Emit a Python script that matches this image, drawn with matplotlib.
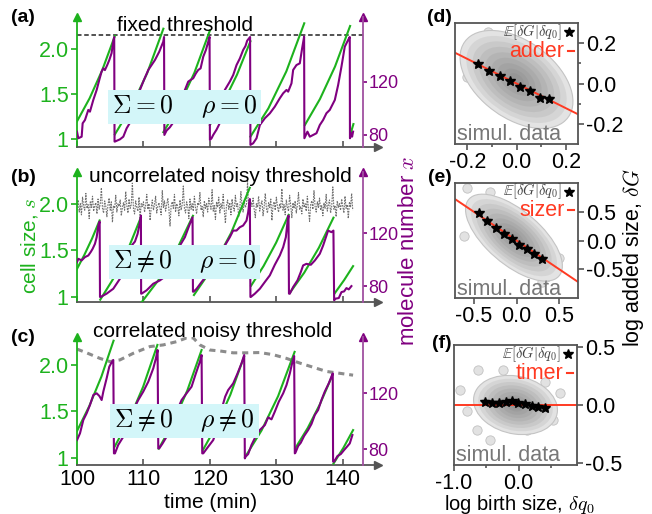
import numpy as np
import matplotlib.pyplot as plt
from matplotlib.patches import Ellipse

plt.rcParams['font.family'] = ['Liberation Sans', 'DejaVu Sans']
plt.rcParams['mathtext.fontset'] = 'cm'
plt.rcParams['axes.unicode_minus'] = False

GREEN = '#1db21d'
PURPLE = '#800080'
AXGRAY = '#555555'
RED = '#ff3a22'
CYAN = '#d3f6f9'

W, H = 652, 514

# ---------------- (a) fixed threshold ----------------
a_size_t = [[100.0, 101.9, 103.8, 105.7], [105.7, 108.13, 110.57, 113.0],
            [113.0, 115.33, 117.67, 120.0], [120.0, 122.03, 124.07, 126.1],
            [126.1, 128.8, 131.5, 134.2], [134.3, 136.57, 138.83, 141.1],
            [141.2, 141.6]]
a_size_s = [[1.20, 1.457, 1.77, 2.15], [1.055, 1.354, 1.737, 2.23],
            [1.08, 1.371, 1.741, 2.21], [1.16, 1.411, 1.717, 2.09],
            [1.03, 1.344, 1.755, 2.29], [1.16, 1.449, 1.809, 2.26],
            [1.07, 1.17]]
a_mol_t = [100.0, 100.2, 100.7, 100.85, 101.2, 101.7, 101.95, 102.45, 102.96, 103.35,
           103.7, 103.95, 104.2, 104.55, 104.86, 105.2, 105.45, 105.6, 105.65,
           105.71, 106.47, 106.97, 107.47, 108.22, 108.97, 109.47, 110.07, 110.73,
           111.73, 112.38, 112.98, 113.1, 113.15,
           113.48, 113.98, 114.74, 115.74, 116.24, 116.74, 117.09, 117.49, 117.89,
           118.24, 118.6, 119.0, 119.4, 119.75, 119.95, 120.0,
           120.25, 120.5, 121.0, 121.4, 122.0, 122.25, 123.0, 123.51, 124.01, 124.51,
           125.01, 125.36, 125.61, 126.05, 126.1,
           126.51, 127.02, 127.52, 128.27, 129.02, 129.77, 130.52, 131.03, 131.53,
           131.78, 132.28, 132.53, 133.03, 133.53, 133.88, 134.18, 134.22,
           134.68, 135.04, 135.54, 136.04, 136.54, 137.04, 137.54, 138.04, 138.8,
           139.3, 139.8, 140.3, 140.8, 141.05, 141.08,
           141.3, 141.4, 141.55]
a_mol_x = [82.5, 77.5, 78.7, 88.8, 91.3, 98.9, 97.6, 106.4, 114.0, 121.5,
           127.8, 130.3, 129.0, 132.8, 136.6, 141.7, 150.4, 154.0, 75.0,
           75.0, 76.7, 78.7, 85.0, 91.3, 100.1, 114.0, 121.5, 129.1,
           136.6, 142.9, 150.4, 154.0, 80.0,
           83.3, 85.8, 91.3, 106.4, 114.0, 120.3, 121.5, 122.8, 126.5,
           129.1, 130.3, 139.1, 144.2, 150.4, 154.0, 76.2,
           77.5, 80.0, 84.0, 88.0, 98.0, 114.0, 120.3, 125.3, 132.8, 137.8,
           144.2, 147.2, 151.2, 154.0, 72.5,
           73.7, 77.5, 87.5, 92.6, 96.3, 101.4, 107.7, 111.5, 114.0,
           112.7, 119.0, 129.1, 132.8, 134.1, 145.4, 154.2, 77.5,
           82.5, 78.7, 80.0, 81.3, 87.5, 91.3, 96.4, 98.9, 106.4,
           117.7, 131.6, 146.7, 151.7, 154.0, 77.5,
           81.3, 78.7, 82.5]
a_threshold = 2.155

# ---------------- (b) uncorrelated noisy threshold ----------------
b_size_t = [[100.0, 101.13, 102.27, 103.4], [103.5, 105.53, 107.57, 109.6],
            [109.7, 112.28, 114.87, 117.45], [117.6, 120.4, 123.2, 126.0],
            [126.2, 128.08, 129.97, 131.85], [132.0, 134.2, 136.4, 138.6],
            [138.8, 140.2, 141.55]]
b_size_s = [[1.30, 1.454, 1.627, 1.82], [0.97, 1.203, 1.492, 1.85],
            [0.94, 1.182, 1.486, 1.87], [1.02, 1.312, 1.687, 2.17],
            [1.12, 1.331, 1.582, 1.88], [1.04, 1.260, 1.527, 1.85],
            [1.04, 1.18, 1.33]]
b_mol_t = [100.0, 100.2, 100.7, 101.2, 101.7, 102.05, 102.35, 102.7, 102.96, 103.21,
           103.41, 103.46,
           103.56, 104.46, 105.46, 106.47, 107.47, 108.22, 108.72, 109.12, 109.47,
           109.62, 109.65,
           109.72, 110.47, 111.48, 112.48, 113.48, 114.49, 115.49, 116.24, 116.89,
           117.39, 117.45,
           117.55, 118.0, 118.75, 119.5, 120.5, 121.5, 121.75, 122.25, 123.0, 123.5,
           124.0, 124.5, 125.0, 125.51, 125.76, 126.01, 126.1,
           126.16, 126.77, 127.52, 128.27, 129.02, 129.77, 130.52, 131.03, 131.43,
           131.68, 131.83, 131.9,
           132.03, 132.53, 133.18, 133.68, 134.03, 134.53, 135.19, 135.79, 136.54,
           137.04, 137.54, 137.79, 138.29, 138.59, 138.7,
           138.9, 139.4, 139.8, 140.2, 140.55, 140.9, 141.3]
b_mol_x = [98.3, 100.8, 99.6, 102.1, 103.3, 105.8, 108.3, 112.1, 117.1, 125.9,
           128.9, 72.0,
           72.0, 74.5, 78.2, 85.8, 95.8, 110.8, 113.8, 119.6, 128.4,
           133.4, 74.5,
           74.5, 77.0, 82.0, 84.5, 88.3, 98.3, 110.8, 117.1, 125.9,
           132.1, 76.0,
           76.0, 78.2, 83.3, 88.0, 97.0, 105.0, 107.0, 110.8, 117.1, 122.1,
           122.1, 124.6, 125.9, 129.6, 135.9, 145.9, 72.0,
           72.0, 74.5, 78.2, 83.3, 88.3, 96.3, 103.3, 109.6, 117.1,
           128.4, 133.4, 74.5,
           74.5, 79.5, 84.5, 90.8, 95.8, 97.0, 96.3, 99.5, 104.6,
           110.8, 118.3, 122.1, 120.9, 122.1, 69.5,
           70.7, 71.2, 75.7, 76.2, 78.7, 77.7, 80.2]
b_threshold = [
    1.96, 2.04, 1.91, 2.00, 1.88, 2.07, 1.97, 1.93, 2.11, 1.95, 1.99, 1.84, 2.02, 1.96, 2.08, 1.92, 1.98, 2.01, 1.89, 2.05,
    1.94, 2.00, 2.17, 1.95, 1.90, 2.03, 1.97, 1.86, 1.99, 2.06, 1.93, 2.02, 1.80, 1.98, 1.95, 2.09, 1.91, 2.00, 1.97, 2.04,
    1.87, 1.96, 2.01, 1.93, 2.13, 1.98, 1.90, 2.05, 1.95, 1.99, 2.22, 1.94, 1.89, 2.03, 1.96, 1.92, 2.07, 1.85, 2.00, 1.97,
    2.02, 1.91, 1.98, 2.10, 1.94, 2.00, 1.82, 1.96, 2.04, 1.93, 1.99, 2.08, 1.90, 1.97, 2.01, 1.95, 1.88, 2.14, 1.96, 2.03,
    1.92, 1.99, 2.06, 1.94, 1.76, 1.98, 2.02, 1.95, 2.10, 1.91, 2.00, 1.97, 1.87, 2.04, 1.93, 1.99, 2.19, 1.95, 1.90, 2.02,
    1.97, 1.84, 2.05, 1.94, 2.00, 1.92, 2.08, 1.96, 1.89, 2.01, 1.98, 2.12, 1.93, 1.97, 1.86, 2.03, 1.95, 2.00, 1.91, 2.06,
    1.99, 1.94, 2.15, 1.92, 1.98, 1.83, 2.02, 1.96, 2.07, 1.90, 2.00, 1.95, 2.10, 1.93, 1.79, 1.98, 2.04, 1.94, 2.01, 1.88,
    2.05, 1.96, 1.92, 2.09, 1.97, 2.00, 1.86, 1.95, 2.13, 1.98, 1.91, 2.03, 1.96, 1.99, 2.24, 1.93, 1.89, 2.02, 1.97, 2.06,
    1.94, 1.85, 2.00, 1.96, 2.08, 1.92, 1.99, 2.03, 1.87, 1.97, 2.11, 1.95, 1.90, 2.01, 1.96, 2.05, 1.82, 1.98, 2.02, 1.93,
    2.07, 1.97, 1.91, 2.00, 1.95, 2.16, 1.93, 1.99, 1.88, 2.04, 1.96, 1.92, 2.09, 1.98, 1.85, 2.01, 1.95, 2.03, 1.90, 1.99,
    2.12, 1.94, 1.97, 1.89, 2.05, 1.96, 2.00, 1.92, 2.08, 1.95, 1.81, 1.99, 2.03, 1.94, 2.14, 1.97, 1.91, 2.02, 1.96, 2.06,
    1.93, 1.98, 1.87, 2.01, 1.95, 2.10, 1.92, 1.99, 2.04, 1.90, 1.97, 2.18, 1.94, 1.98, 1.86, 2.03, 1.96, 2.00, 1.93, 2.05,
    1.97, 1.90, 2.08, 1.95, 1.99, 1.84, 2.02, 1.96, 2.11, 1.93]
b_threshold_t = np.linspace(100.0, 141.5, len(b_threshold))

# ---------------- (c) correlated noisy threshold ----------------
c_size_t = [[100.0, 101.83, 103.67, 105.5], [105.65, 107.8, 109.95, 112.1],
            [112.3, 114.45, 116.6, 118.75], [118.95, 121.02, 123.08, 125.15],
            [125.3, 127.78, 130.27, 132.75], [132.85, 134.72, 136.58, 138.45],
            [138.6, 140.1, 141.55]]
c_size_s = [[1.29, 1.555, 1.874, 2.26], [1.12, 1.406, 1.765, 2.215],
            [1.10, 1.378, 1.725, 2.16], [1.086, 1.351, 1.680, 2.09],
            [1.01, 1.297, 1.665, 2.14], [1.105, 1.322, 1.581, 1.89],
            [0.94, 1.11, 1.30]]
c_mol_t = [100.0, 100.45, 100.95, 101.45, 101.95, 102.46, 102.96, 103.36, 103.71, 103.96,
           104.46, 104.86, 105.21, 105.46, 105.56,
           105.71, 106.2, 106.97, 107.72, 108.47, 109.22, 109.97, 110.73, 111.48,
           111.88, 112.13, 112.23,
           112.38, 112.88, 113.48, 114.23, 114.99, 115.74, 116.49, 117.24, 117.89,
           118.5, 118.75, 118.85,
           119.0, 119.75, 120.5, 121.2, 121.8, 122.3, 122.75, 123.51, 124.16, 124.76,
           125.16, 125.26,
           125.36, 125.76, 126.26, 126.87, 127.52, 128.27, 128.77, 129.27, 129.77,
           130.37, 131.03, 131.53, 132.03, 132.43, 132.68, 132.78,
           132.88, 133.28, 133.68, 134.18, 134.79, 135.29, 135.79, 136.29, 136.79,
           137.29, 137.89, 138.29, 138.49, 138.54,
           138.7, 139.2, 139.7, 140.2, 140.55, 141.05, 141.45]
c_mol_x = [86.4, 91.2, 100.7, 105.5, 111.4, 118.6, 119.8, 117.9, 115.0, 121.0,
           130.5, 138.8, 141.9, 143.6, 76.9,
           76.9, 82.9, 88.8, 98.3, 107.9, 115.0, 121.0, 128.1, 137.6,
           144.8, 150.7, 80.5,
           80.5, 84.0, 88.8, 97.1, 106.7, 115.0, 119.8, 124.5, 134.0,
           142.4, 147.1, 76.9,
           76.9, 81.7, 86.4, 96.0, 109.0, 117.4, 122.1, 126.9, 134.0, 141.2,
           147.1, 73.3,
           74.5, 76.4, 82.9, 88.8, 93.6, 97.1, 102.6, 101.2, 106.7,
           113.8, 119.8, 125.7, 134.0, 142.4, 146.4, 76.9,
           77.4, 82.1, 84.5, 89.3, 93.6, 97.9, 104.3, 107.9, 115.0,
           121.0, 126.9, 131.7, 134.0, 71.0,
           71.0, 75.0, 76.4, 79.3, 81.2, 84.0, 90.0]
c_threshold_t = [100.0, 101.45, 103.46, 104.96, 106.46, 108.47, 110.97, 112.98, 114.99,
                 116.49, 117.49, 118.5, 120.0, 121.5, 123.51, 125.51, 127.52, 129.52,
                 131.53, 133.53, 135.54, 137.54, 139.55, 141.55]
c_threshold_s = [2.17, 2.13, 2.07, 2.036, 2.054, 2.125, 2.197, 2.215, 2.25,
                 2.29, 2.29, 2.215, 2.16, 2.15, 2.13, 2.13, 2.133, 2.11,
                 2.07, 2.02, 1.975, 1.93, 1.91, 1.89]

time_ticks = [100, 110, 120, 130, 140]

# ---------------- (d)-(f) added size vs birth size ----------------
# cloud summary: mean x, mean y, std x, std y, correlation
d_cloud = (0.0, 0.02, 0.085, 0.09, -0.45)
e_cloud = (-0.03, 0.05, 0.21, 0.28, -0.65)
f_cloud = (-0.05, 0.0, 0.24, 0.095, -0.17)
d_outliers = [(-0.2, 0.03), (-0.17, 0.215), (0.175, 0.007), (0.147, -0.085),
              (0.036, -0.17), (-0.117, 0.257), (-0.08, 0.2), (0.1, -0.15)]
e_outliers = [(-0.58, 0.91), (-0.31, 0.85), (0.46, -0.5), (0.35, -0.64),
              (-0.62, 0.07), (-0.5, 0.55), (0.3, -0.72), (0.5, -0.3)]
f_outliers = [(-0.91, 0.13), (-0.63, 0.30), (-0.65, -0.22), (-0.45, -0.30),
              (0.63, 0.10), (0.53, -0.13), (-0.24, 0.30), (0.12, -0.22),
              (-0.8, -0.05), (0.4, 0.2)]
d_bin_x = [-0.155, -0.11, -0.068, -0.026, 0.015, 0.054, 0.095, 0.133]
d_bin_y = [0.095, 0.06, 0.035, 0.01, -0.015, -0.035, -0.07, -0.075]
e_bin_x = [-0.44, -0.34, -0.245, -0.15, -0.055, 0.035, 0.125, 0.21, 0.30]
e_bin_y = [0.48, 0.345, 0.21, 0.12, 0.02, -0.07, -0.145, -0.23, -0.315]
f_bin_x = [-0.525, -0.41, -0.31, -0.2, -0.1, -0.01, 0.10, 0.2, 0.3, 0.4]
f_bin_y = [0.029, 0.02, 0.02, 0.023, 0.035, 0.014, 0.009, -0.006, -0.014, -0.029]
d_slope, e_slope, f_slope = -0.61, -1.0, 0.0


def px(x, y):
    return x / W, 1 - y / H


fig = plt.figure(figsize=(W / 100, H / 100), dpi=100)


def left_panel(top_px, bot_px, ylim_s, ylim_x, size_t, size_s, mol_t, mol_x,
               box_text, box_y, labels_on):
    ax = fig.add_axes([77 / W, 1 - bot_px / H, 301 / W, (bot_px - top_px) / H])
    ax.set_xlim(100, 145.3)
    ax.set_ylim(*ylim_s)
    ax.spines['top'].set_visible(False)
    ax.spines['right'].set_visible(False)
    ax.spines['left'].set_color(GREEN)
    ax.spines['left'].set_linewidth(1.3)
    ax.spines['bottom'].set_color(AXGRAY)
    ax.spines['bottom'].set_linewidth(1.3)
    ax.set_yticks([1, 1.5, 2.0])
    ax.set_yticklabels(['1', '1.5', '2.0'])
    ax.tick_params(axis='y', colors=GREEN, labelsize=15.5, direction='out',
                   length=4, width=1.2, pad=2)
    ax.set_xticks(time_ticks)
    ax.tick_params(axis='x', color=AXGRAY, labelcolor='black', labelsize=15.5,
                   direction='in', length=4, width=1.2, pad=3)
    if not labels_on:
        ax.set_xticklabels([])
    for t, s in zip(size_t, size_s):
        ax.plot(t, s, color=GREEN, lw=1.5, zorder=3)
    ax.plot([0], [1], marker='^', color=GREEN, ms=6, transform=ax.transAxes,
            clip_on=False)
    ax.plot([1], [0], marker='>', color=AXGRAY, ms=6, transform=ax.transAxes,
            clip_on=False)

    ax2 = ax.twinx()
    ax2.set_ylim(*ylim_x)
    for sp in ('left', 'top', 'bottom'):
        ax2.spines[sp].set_visible(False)
    ax2.spines['right'].set_position(('axes', 0.95))
    ax2.spines['right'].set_color('#a050a0')
    ax2.spines['right'].set_linewidth(1.3)
    ax2.set_yticks([80, 120])
    ax2.tick_params(axis='y', colors=PURPLE, labelsize=13, direction='out',
                    length=3, width=1.2, pad=1)
    ax2.plot(mol_t, mol_x, color=PURPLE, lw=1.5, zorder=3)
    ax2.plot([0.95], [1], marker='^', color=PURPLE, ms=6, transform=ax2.transAxes,
             clip_on=False)
    ax2.text(0.357, box_y, box_text, transform=ax2.transAxes, ha='center',
             va='center', fontsize=18.5, zorder=10,
             bbox=dict(boxstyle='square,pad=0.15', fc=CYAN, ec='none'))
    return ax, ax2


axa, axa2 = left_panel(17, 147, (0.915, 2.36), (70.9, 169.1), a_size_t, a_size_s,
                       a_mol_t, a_mol_x, r'$\Sigma = 0\quad\;\rho = 0$', 0.307, False)
axa.axhline(a_threshold, xmin=0, xmax=0.95, color='#444444', lw=1.3,
            ls=(0, (2.5, 1.5)), zorder=2)

axb, axb2 = left_panel(172, 302, (0.945, 2.34), (68.2, 166.3), b_size_t, b_size_s,
                       b_mol_t, b_mol_x, r'$\Sigma \neq 0\quad\;\rho = 0$', 0.309, False)
axb.plot(b_threshold_t, b_threshold, color='#707070', lw=0.8, ls=(0, (1.5, 1)),
         zorder=2)

axc, axc2 = left_panel(337, 465, (0.925, 2.30), (68.6, 160.0), c_size_t, c_size_s,
                       c_mol_t, c_mol_x, r'$\Sigma \neq 0\quad\;\rho \neq 0$', 0.344, True)
axc.plot(c_threshold_t, c_threshold_s, color='#8c8c8c', lw=2.2, ls=(0, (2, 1.6)),
         zorder=2)

fig.text(*px(23, 18), '(a)', fontsize=14, fontweight='bold', ha='center', va='center')
fig.text(*px(23, 177), '(b)', fontsize=14, fontweight='bold', ha='center', va='center')
fig.text(*px(23, 338), '(c)', fontsize=14, fontweight='bold', ha='center', va='center')
fig.text(*px(185, 31), 'fixed threshold', fontsize=15, ha='center', va='baseline')
fig.text(*px(220, 182), 'uncorrelated noisy threshold', fontsize=15, ha='center',
         va='baseline')
fig.text(*px(213, 337), 'correlated noisy threshold', fontsize=15, ha='center',
         va='baseline')
fig.text(*px(211, 503), 'time (min)', fontsize=15, ha='center', va='center')
fig.text(*px(29, 246), 'cell size, $s$', fontsize=15, color=GREEN, rotation=90,
         ha='center', va='center')
fig.text(*px(409, 251), 'molecule number $x$', fontsize=16, color=PURPLE,
         rotation=90, ha='center', va='center')


def right_panel(rect_px, xlim, ylim, xticks, xticklabels, yticks, xminor, yminor,
                cloud, outliers, bx, by, slope, model, label, label_y):
    l, t, r, b = rect_px
    ax = fig.add_axes([l / W, 1 - b / H, (r - l) / W, (b - t) / H])
    ax.set_xlim(*xlim)
    ax.set_ylim(*ylim)
    for sp in ax.spines.values():
        sp.set_color(AXGRAY)
        sp.set_linewidth(1.3)
    ax.yaxis.tick_right()
    ax.set_xticks(xticks)
    ax.set_xticklabels(xticklabels)
    ax.set_yticks(yticks)
    ax.set_yticklabels(['%.1f' % v for v in yticks])
    ax.set_xticks(xminor, minor=True)
    ax.set_yticks(yminor, minor=True)
    ax.tick_params(which='both', color=AXGRAY, labelsize=15.5, direction='out',
                   width=1.2, pad=1.5)
    ax.tick_params(which='major', length=4)
    ax.tick_params(which='minor', length=2.5)

    mx, my, sx, sy, rho = cloud
    cov = np.array([[sx * sx, rho * sx * sy], [rho * sx * sy, sy * sy]])
    vals, vecs = np.linalg.eigh(cov)
    ang = np.degrees(np.arctan2(vecs[1, 1], vecs[0, 1]))
    ox, oy = zip(*outliers)
    ax.scatter(ox, oy, s=45, facecolor='#e2e2e2', edgecolor='#c2c2c2', lw=0.6,
               zorder=1)
    ax.add_patch(Ellipse((mx, my), 2 * 2.7 * np.sqrt(vals[1]), 2 * 2.7 * np.sqrt(vals[0]),
                         angle=ang, fc='#e3e3e3', ec='#c4c4c4', lw=0.8, zorder=1))
    for k in [2.4, 2.1, 1.8, 1.5, 1.2, 0.9, 0.6, 0.35]:
        ax.add_patch(Ellipse((mx, my), 2 * k * np.sqrt(vals[1]), 2 * k * np.sqrt(vals[0]),
                             angle=ang, fc='#6a6a6a', alpha=0.11, ec='none',
                             zorder=1))
    ax.axline((0, 0), slope=slope, color=RED, lw=1.4, zorder=2)
    ax.errorbar(bx, by, yerr=0.012 * (ylim[1] - ylim[0]), fmt='*', color='black',
                ms=7, capsize=2.5, lw=1, zorder=3)

    ax.text(0.87, 0.925, r'$\mathbb{E}[\delta G|\delta q_0]$', transform=ax.transAxes,
            ha='right', va='center', fontsize=10.5, color='#444444')
    ax.plot([0.93], [0.925], marker='*', color='black', ms=7, transform=ax.transAxes)
    ax.text(0.89, 0.765, model, transform=ax.transAxes, ha='right', va='center',
            fontsize=15.5, color=RED)
    ax.plot([0.915, 0.97], [0.765, 0.765], color=RED, lw=1.5, transform=ax.transAxes)
    ax.text(0.02, 0.03, 'simul. data', transform=ax.transAxes, ha='left',
            va='baseline', fontsize=15.5, color='#777777')
    fig.text(*px(452, label_y), label, fontsize=14, fontweight='bold', ha='right',
             va='center')
    return ax


right_panel((455, 23, 578, 144), (-0.25, 0.25), (-0.3, 0.3), [-0.2, 0.0, 0.2],
            ['-0.2', '0.0', '0.2'], [-0.2, 0.0, 0.2], [-0.1, 0.1], [-0.1, 0.1],
            d_cloud, d_outliers, d_bin_x, d_bin_y, d_slope, 'adder', '(d)', 18)
right_panel((455, 183, 578, 298), (-0.72, 0.72), (-1.0, 1.0), [-0.5, 0.0, 0.5],
            ['-0.5', '0.0', '0.5'], [-0.5, 0.0, 0.5], [], [],
            e_cloud, e_outliers, e_bin_x, e_bin_y, e_slope, 'sizer', '(e)', 178)
right_panel((454, 345, 577, 465), (-1.0, 0.9), (-0.52, 0.52), [-1.0, 0.0],
            ['-1.0', '0.0'], [-0.5, 0.0, 0.5], [-0.5, 0.5], [],
            f_cloud, f_outliers, f_bin_x, f_bin_y, f_slope, 'timer', '(f)', 344)

fig.text(*px(633, 258), r'log added size, $\delta G$', fontsize=15.5, rotation=90,
         ha='center', va='center')
fig.text(*px(519, 504), r'log birth size, $\delta q_0$', fontsize=14.5, ha='center',
         va='center')

fig.savefig('out.png', dpi=100)
